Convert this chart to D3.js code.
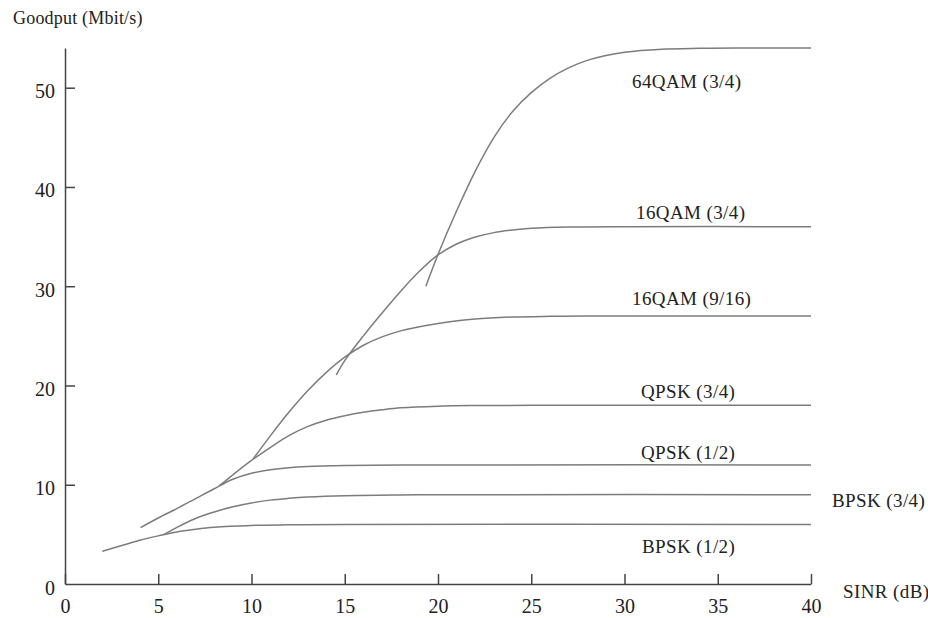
<!DOCTYPE html>
<html>
<head>
<meta charset="utf-8">
<script src="https://cdn.jsdelivr.net/npm/d3@7"></script>
<style>
  body { margin: 0; background: #fff; }
</style>
</head>
<body>
<svg id="chart" width="928" height="618"></svg>
<script>
// SINR (dB) / goodput (Mbit/s) points
let bpsk12 = [[2, 3.3], [3, 3.85], [4, 4.4], [5, 4.85], [6, 5.25], [7, 5.52], [8, 5.72], [10, 5.9], [12, 5.96], [15, 6], [40, 6]]
let bpsk34 = [[5.27, 4.94], [6, 5.7], [7, 6.6], [8, 7.25], [9, 7.78], [10, 8.16], [11, 8.45], [12, 8.63], [13, 8.76], [15, 8.9], [18, 8.97], [22, 9], [40, 9]]
let qpsk12 = [[4.05, 5.68], [5, 6.65], [6, 7.6], [7, 8.6], [8, 9.6], [9, 10.55], [10, 11.15], [11, 11.5], [12, 11.72], [13, 11.84], [15, 11.94], [18, 11.99], [22, 12], [40, 12]]
let qpsk34 = [[8.27, 9.88], [9, 11.0], [10, 12.45], [11, 13.75], [12, 14.95], [13, 15.85], [14, 16.5], [15, 16.95], [16, 17.3], [17, 17.55], [18, 17.75], [20, 17.92], [22, 17.98], [25, 18], [40, 18]]
let qam916 = [[10.09, 12.6], [11, 14.9], [12, 17.3], [13, 19.45], [14, 21.3], [15, 22.85], [16, 24.05], [17, 24.9], [18, 25.5], [19, 25.92], [20, 26.25], [22, 26.7], [24, 26.9], [26, 26.97], [28, 27], [40, 27]]
let qam1634 = [[14.55, 21.07], [15, 22.5], [16, 25.0], [17, 27.3], [18, 29.5], [19, 31.5], [20, 33.15], [21, 34.25], [22, 34.95], [23, 35.4], [24, 35.66], [25, 35.83], [27, 35.96], [30, 36], [40, 36]]
let qam6434 = [[19.35, 30], [20, 33.2], [21, 37.6], [22, 41.6], [23, 45.0], [24, 47.6], [25, 49.5], [26, 50.95], [27, 52.0], [28, 52.75], [29, 53.25], [30, 53.58], [32, 53.88], [34, 53.97], [36, 54], [40, 54]]

let seriesNames = ["BPSK (1/2)", "BPSK (3/4)", "QPSK (1/2)", "QPSK (3/4)", "16QAM (9/16)", "16QAM (3/4)", "64QAM (3/4)"]
let seriesData = [bpsk12, bpsk34, qpsk12, qpsk34, qam916, qam1634, qam6434]

let xTicks = [0, 5, 10, 15, 20, 25, 30, 35, 40]
let yTicks = [0, 10, 20, 30, 40, 50]

let serif = "'Liberation Serif', 'DejaVu Serif', serif"
let svg = d3.select("#chart")

let xScale = d3.scaleLinear().domain([0, 40]).range([65, 811])
let yScale = d3.scaleLinear().domain([0, 54]).range([584, 48])

// 坐标轴
let xAxis = svg.append("g")
    .attr("transform", "translate(0,584)")
    .call(d3.axisBottom(xScale).tickValues(xTicks).tickSizeInner(-10).tickSizeOuter(0))
xAxis.selectAll("text")
    .attr("y", 29).attr("dy", 0)

let yAxis = svg.append("g")
    .attr("transform", "translate(65,0)")
    .call(d3.axisLeft(yScale).tickValues(yTicks).tickSizeInner(-10).tickSizeOuter(0))
yAxis.selectAll("text")
    .attr("x", -10).attr("y", 10).attr("dy", 0)

svg.selectAll(".tick text")
    .attr("font-family", serif)
    .attr("font-size", 20)
    .attr("fill", "#222")
svg.selectAll(".domain, .tick line")
    .attr("stroke", "#444")
    .attr("stroke-width", 1.5)
yAxis.selectAll(".tick").filter(d => d == 0).select("line").remove()

// 曲线
let line = d3.line()
    .x(d => xScale(d[0]))
    .y(d => yScale(d[1]))
    .curve(d3.curveCatmullRom.alpha(0.5))

svg.selectAll(".curve")
    .data(seriesData)
    .enter()
    .append("path")
    .attr("class", "curve")
    .attr("d", line)
    .attr("fill", "none")
    .attr("stroke", "#7c7c7c")
    .attr("stroke-width", 1.5)

// 标签
let labelPos = [[642, 553], [832, 507], [641, 459], [641, 398], [632, 305], [636, 219], [632, 88]]
svg.selectAll(".label")
    .data(seriesNames)
    .enter()
    .append("text")
    .attr("class", "label")
    .attr("x", (d, i) => labelPos[i][0])
    .attr("y", (d, i) => labelPos[i][1])
    .attr("font-family", serif)
    .attr("font-size", 19)
    .attr("letter-spacing", 0.4)
    .attr("fill", "#222")
    .text(d => d)

svg.append("text")
    .attr("x", 13).attr("y", 24)
    .attr("font-family", serif)
    .attr("font-size", 18)
    .attr("letter-spacing", 0.2)
    .attr("fill", "#222")
    .text("Goodput (Mbit/s)")

svg.append("text")
    .attr("x", 843).attr("y", 598)
    .attr("font-family", serif)
    .attr("font-size", 19)
    .attr("letter-spacing", 0.4)
    .attr("fill", "#222")
    .text("SINR (dB)")
</script>
</body>
</html>
